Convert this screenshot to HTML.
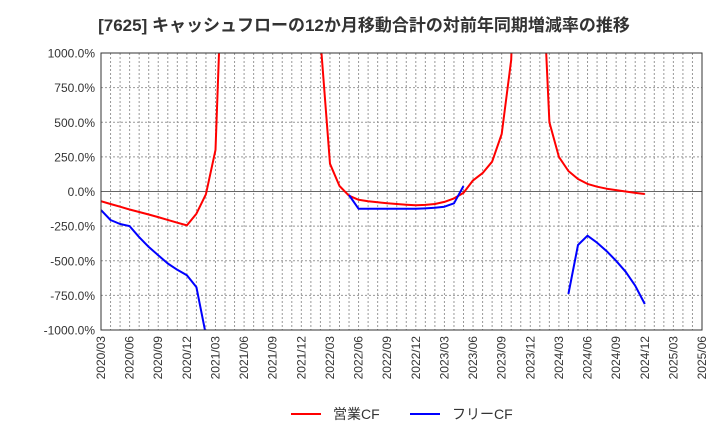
<!DOCTYPE html>
<html><head><meta charset="utf-8"><style>
body{margin:0;background:#fff;}
svg{display:block;font-family:"Liberation Sans","Noto Sans CJK JP",sans-serif;}
</style></head><body>
<svg id="chart" width="720" height="440">
<text x="364" y="31" text-anchor="middle" font-size="17" font-weight="bold" fill="#333">[7625]  キャッシュフローの12か月移動合計の対前年同期増減率の推移</text>
<defs><clipPath id="clip"><rect x="101" y="53" width="601" height="277"/></clipPath></defs>
<g id="grid"></g>
<g id="series" clip-path="url(#clip)"></g>
<rect x="101" y="53" width="601" height="277" fill="none" stroke="#333" stroke-width="1"/>
<g id="axes"></g>
<g>
<line x1="291" y1="414" x2="321" y2="414" stroke="#f00" stroke-width="2"/>
<text x="333" y="419" font-size="14" fill="#333">営業CF</text>
<line x1="410" y1="414" x2="440" y2="414" stroke="#00f" stroke-width="2"/>
<text x="452" y="419" font-size="14" fill="#333">フリーCF</text>
</g>
</svg>
<script>
const yTicks=[1000,750,500,250,0,-250,-500,-750,-1000];
const xTickLabels=["2020/03","2020/06","2020/09","2020/12","2021/03","2021/06","2021/09","2021/12","2022/03","2022/06","2022/09","2022/12","2023/03","2023/06","2023/09","2023/12","2024/03","2024/06","2024/09","2024/12","2025/03","2025/06"];
const operatingCF=[-70,-90,-110,-130,-148,-166,-185,-205,-225,-245,-160,-20,300,2200,5000,5000,5000,5000,5000,5000,5000,5000,5000,1100,200,40,-30,-60,-70,-78,-85,-90,-95,-100,-97,-90,-75,-50,-10,80,133,215,415,950,3000,3000,2000,500,250,148,90,55,35,20,10,0,-10,-18];
const freeCF=[-134,-206,-235,-250,-330,-400,-460,-520,-565,-605,-690,-1035,null,null,null,null,null,null,null,null,null,null,null,null,null,null,-25,-125,-125,-125,-125,-125,-125,-125,-122,-118,-110,-85,40,null,null,null,null,null,null,null,null,null,null,-740,-386,-319,-370,-430,-500,-580,-680,-812];
const NS="http://www.w3.org/2000/svg";
const X0=101,X1=702,Y0=53,Y1=330,nMonths=63;
const xs=i=>X0+(X1-X0)*i/nMonths;
const ys=v=>Y1-(v+1000)/2000*(Y1-Y0);
const grid=document.getElementById('grid'),axes=document.getElementById('axes'),series=document.getElementById('series');
function mk(tag,attrs,parent){const e=document.createElementNS(NS,tag);for(const k in attrs)e.setAttribute(k,attrs[k]);parent.appendChild(e);return e;}
for(let m=1;m<nMonths;m++){
 const l=mk('line',{x1:xs(m),x2:xs(m),y1:Y0,y2:Y1,stroke:'#999','stroke-dasharray':'2,2','stroke-width':1},grid);
 
 
}
yTicks.forEach(v=>{
 const y=ys(v);
 if(v!==1000&&v!==-1000){
  const l=mk('line',{x1:X0,x2:X1,y1:y,y2:y,stroke:v===0?'#666':'#999','stroke-dasharray':v===0?'':'2,2','stroke-width':1},grid);
  
  
 }
 const t=mk('text',{x:95,y:y+4.5,'text-anchor':'end','font-size':12,fill:'#333'},axes);
 t.textContent=v.toFixed(1)+'%';
 
 
});
xTickLabels.forEach((s,i)=>{
 const x=xs(i*3);
 const t=mk('text',{x:0,y:0,'text-anchor':'end','font-size':12,fill:'#333',transform:`translate(${x+4},336) rotate(-90)`},axes);
 t.textContent=s;
 
 
});
function draw(data,color,name){
 let d='',pen=false;
 data.forEach((v,i)=>{
  if(v===null){pen=false;return;}
  d+=(pen?'L':'M')+xs(i).toFixed(1)+','+ys(v).toFixed(1);pen=true;
 });
 const p=mk('path',{d:d,fill:'none',stroke:color,'stroke-width':2,'stroke-linejoin':'round'},series);
 
 
}
draw(operatingCF,'#f00','operating-cf-line');
draw(freeCF,'#00f','free-cf-line');
</script>
</body></html>
